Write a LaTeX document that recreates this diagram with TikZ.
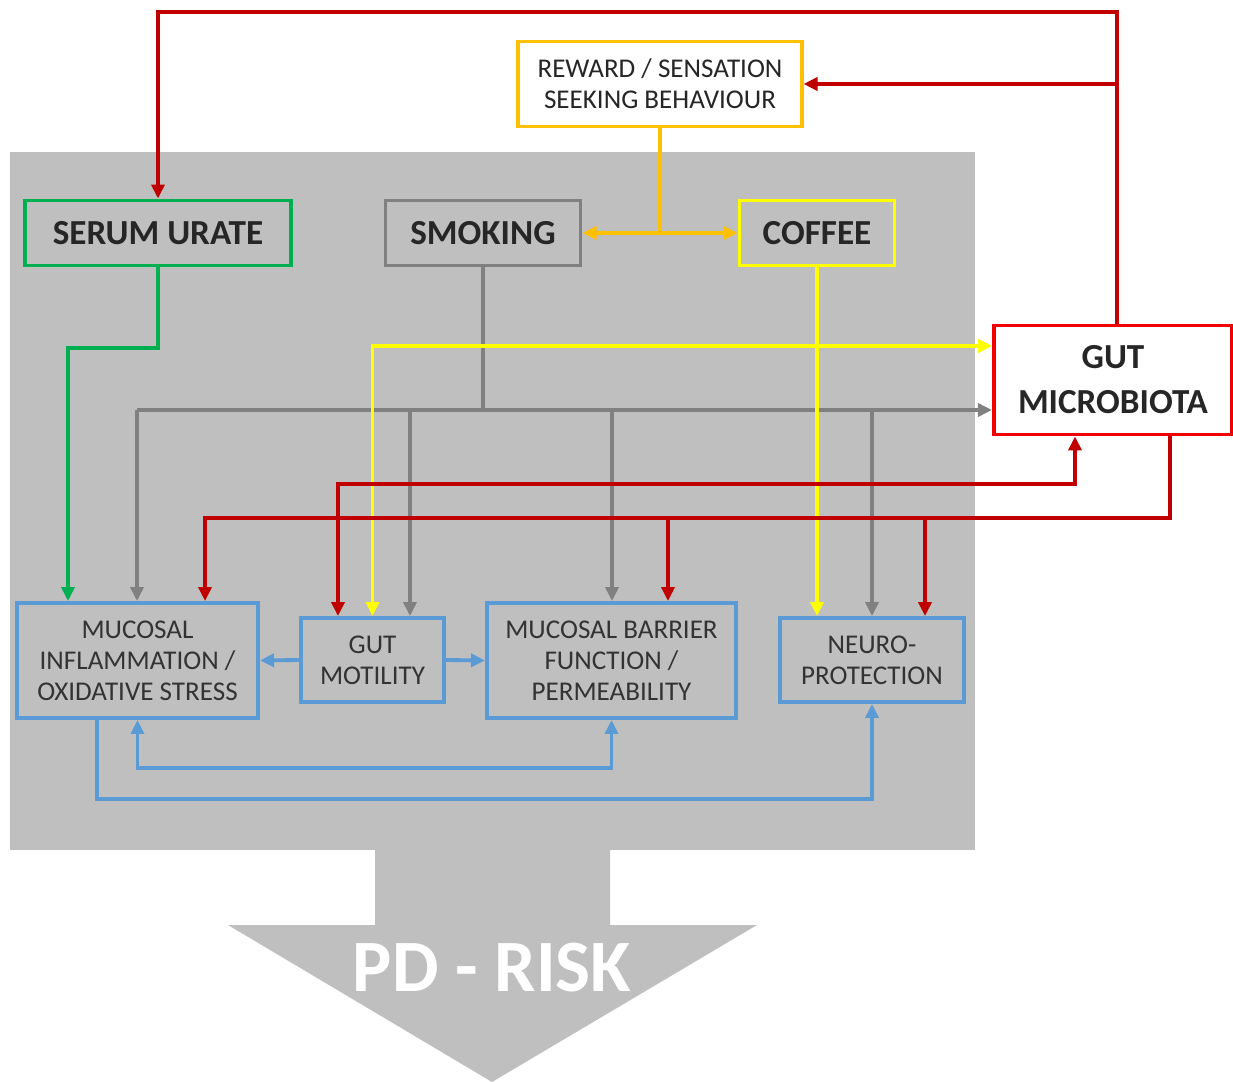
\documentclass[tikz,border=0pt]{standalone}
\usepackage{fontspec}
\setmainfont{Carlito}
\usetikzlibrary{arrows.meta, positioning}

\definecolor{panelgray}{HTML}{BFBFBF}
\definecolor{linegray}{HTML}{808080}
\definecolor{urategreen}{HTML}{00B050}
\definecolor{rewardgold}{HTML}{FFC000}
\definecolor{coffeeyellow}{HTML}{FFFF00}
\definecolor{linered}{HTML}{C00000}
\definecolor{boxred}{HTML}{F00000}
\definecolor{effblue}{HTML}{5B9BD5}

\begin{document}
\begin{tikzpicture}[x=0.01cm, y=-0.01cm, >={Triangle[length=0.14cm,width=0.13cm]}]
  \tikzset{
    causebox/.style={
      draw,
      line width=1.1pt,
      fill=panelgray,
      text=black!85,
      minimum height=0.65cm,
      font=\bfseries\fontsize{10}{12}\selectfont},
    effbox/.style={
      draw=effblue,
      line width=1.1pt,
      align=center,
      text=black!80,
      font=\fontsize{7.7}{8.8}\selectfont},
    link/.style={line width=1.1pt},
    redlink/.style={link, draw=linered},
    graylink/.style={link, draw=linegray},
    yellowlink/.style={link, draw=coffeeyellow},
    goldlink/.style={link, draw=rewardgold},
    bluelink/.style={link, draw=effblue}}

  \useasboundingbox (0,0) rectangle (1233,1082);

  % background panel and outcome arrow
  \fill[panelgray] (10,152) rectangle (975,850);
  \fill[panelgray] (375,850) -- (610,850) -- (610,925) -- (757,925)
    -- (492,1082) -- (228,925) -- (375,925) -- cycle;
  \node[text=white, font=\bfseries\fontsize{21}{24}\selectfont] (risk) at (492,968) {PD - RISK};

  \node[causebox, draw=urategreen, minimum width=2.65cm] (urate) at (158,233) {SERUM URATE};
  \node[causebox, draw=linegray, minimum width=1.95cm] (smoking) at (483,233) {SMOKING};
  \node[causebox, draw=coffeeyellow, minimum width=1.55cm] (coffee) at (817,233) {COFFEE};
  \node[draw=rewardgold, line width=1.1pt, fill=white, align=center, text=black!85,
    minimum width=2.83cm, minimum height=0.85cm,
    font=\fontsize{7.7}{8.8}\selectfont] (reward) at (660,84) {REWARD / SENSATION\\SEEKING BEHAVIOUR};
  \node[causebox, draw=boxred, fill=white, align=center, minimum width=2.38cm,
    minimum height=1.09cm, font=\bfseries\fontsize{10}{12.8}\selectfont] (microbiota) at (1113,380) {GUT\\MICROBIOTA};

  \node[effbox, minimum width=2.41cm, minimum height=1.15cm] (inflam) at (137.5,660.5) {MUCOSAL\\INFLAMMATION /\\OXIDATIVE STRESS};
  \node[effbox, minimum width=1.43cm, minimum height=0.84cm] (motility) at (372.5,660) {GUT\\MOTILITY};
  \node[effbox, minimum width=2.49cm, minimum height=1.15cm] (barrier) at (611.5,660.5) {MUCOSAL BARRIER\\FUNCTION /\\PERMEABILITY};
  \node[effbox, minimum width=1.84cm, minimum height=0.84cm] (neuro) at (872,660) {NEURO-\\PROTECTION};

  \coordinate (redtop) at (1117,12);
  \coordinate (rewardjoin) at (1117,84);
  \coordinate (habitjoin) at (660,233);
  \coordinate (greenbend) at (68,348);
  \coordinate (graybus) at (483,410);
  \coordinate (coffeejoin) at (817,346);
  \coordinate (redmid) at (1075,484);
  \coordinate (redbus) at (1170,518);

  % gut microbiota feedback
  \draw[redlink, ->] (microbiota.north -| redtop) -- (redtop) -| (urate.north);
  \draw[redlink, ->] (rewardjoin) -- (reward.east);

  % reward seeking
  \draw[goldlink] (reward.south) -- (habitjoin);
  \draw[goldlink, ->] (habitjoin) -- (smoking.east);
  \draw[goldlink, ->] (habitjoin) -- (coffee.west);

  % serum urate
  \draw[link, draw=urategreen, ->] (urate.south) |- (greenbend) -- (greenbend |- inflam.north);

  % smoking
  \draw[graylink] (smoking.south) -- (graybus);
  \draw[graylink, ->] (137,410) -- (microbiota.west |- graybus);
  \foreach \tgt/\xx in {inflam/137, motility/410, barrier/612, neuro/872}
    \draw[graylink, ->] (\xx,410) -- (\tgt.north -| \xx,410);

  % coffee
  \draw[yellowlink, ->] (coffee.south) -- (coffee.south |- neuro.north);
  \draw[yellowlink, ->] (coffeejoin) -- (microbiota.west |- coffeejoin);
  \draw[yellowlink, ->] (coffeejoin) -| (motility.north);

  % gut microbiota effects
  \draw[redlink, <->] ([xshift=-0.345cm]motility.north) |- (redmid) -- (microbiota.south -| redmid);
  \draw[redlink, ->] (microbiota.south -| redbus) -- (redbus) -| ([xshift=0.675cm]inflam.north);
  \foreach \tgt/\xx in {barrier/668, neuro/925}
    \draw[redlink, ->] (\xx,518) -- (\tgt.north -| \xx,518);

  % interactions between effects
  \draw[bluelink, ->] (motility.west) -- (inflam.east);
  \draw[bluelink, ->] (motility.east) -- (barrier.west);
  \draw[bluelink, <->] (inflam.south) -- ++(0,48) -| (barrier.south);
  \draw[bluelink, ->] ([xshift=-0.405cm]inflam.south) -- ++(0,79) -| (neuro.south);

\end{tikzpicture}
\end{document}
